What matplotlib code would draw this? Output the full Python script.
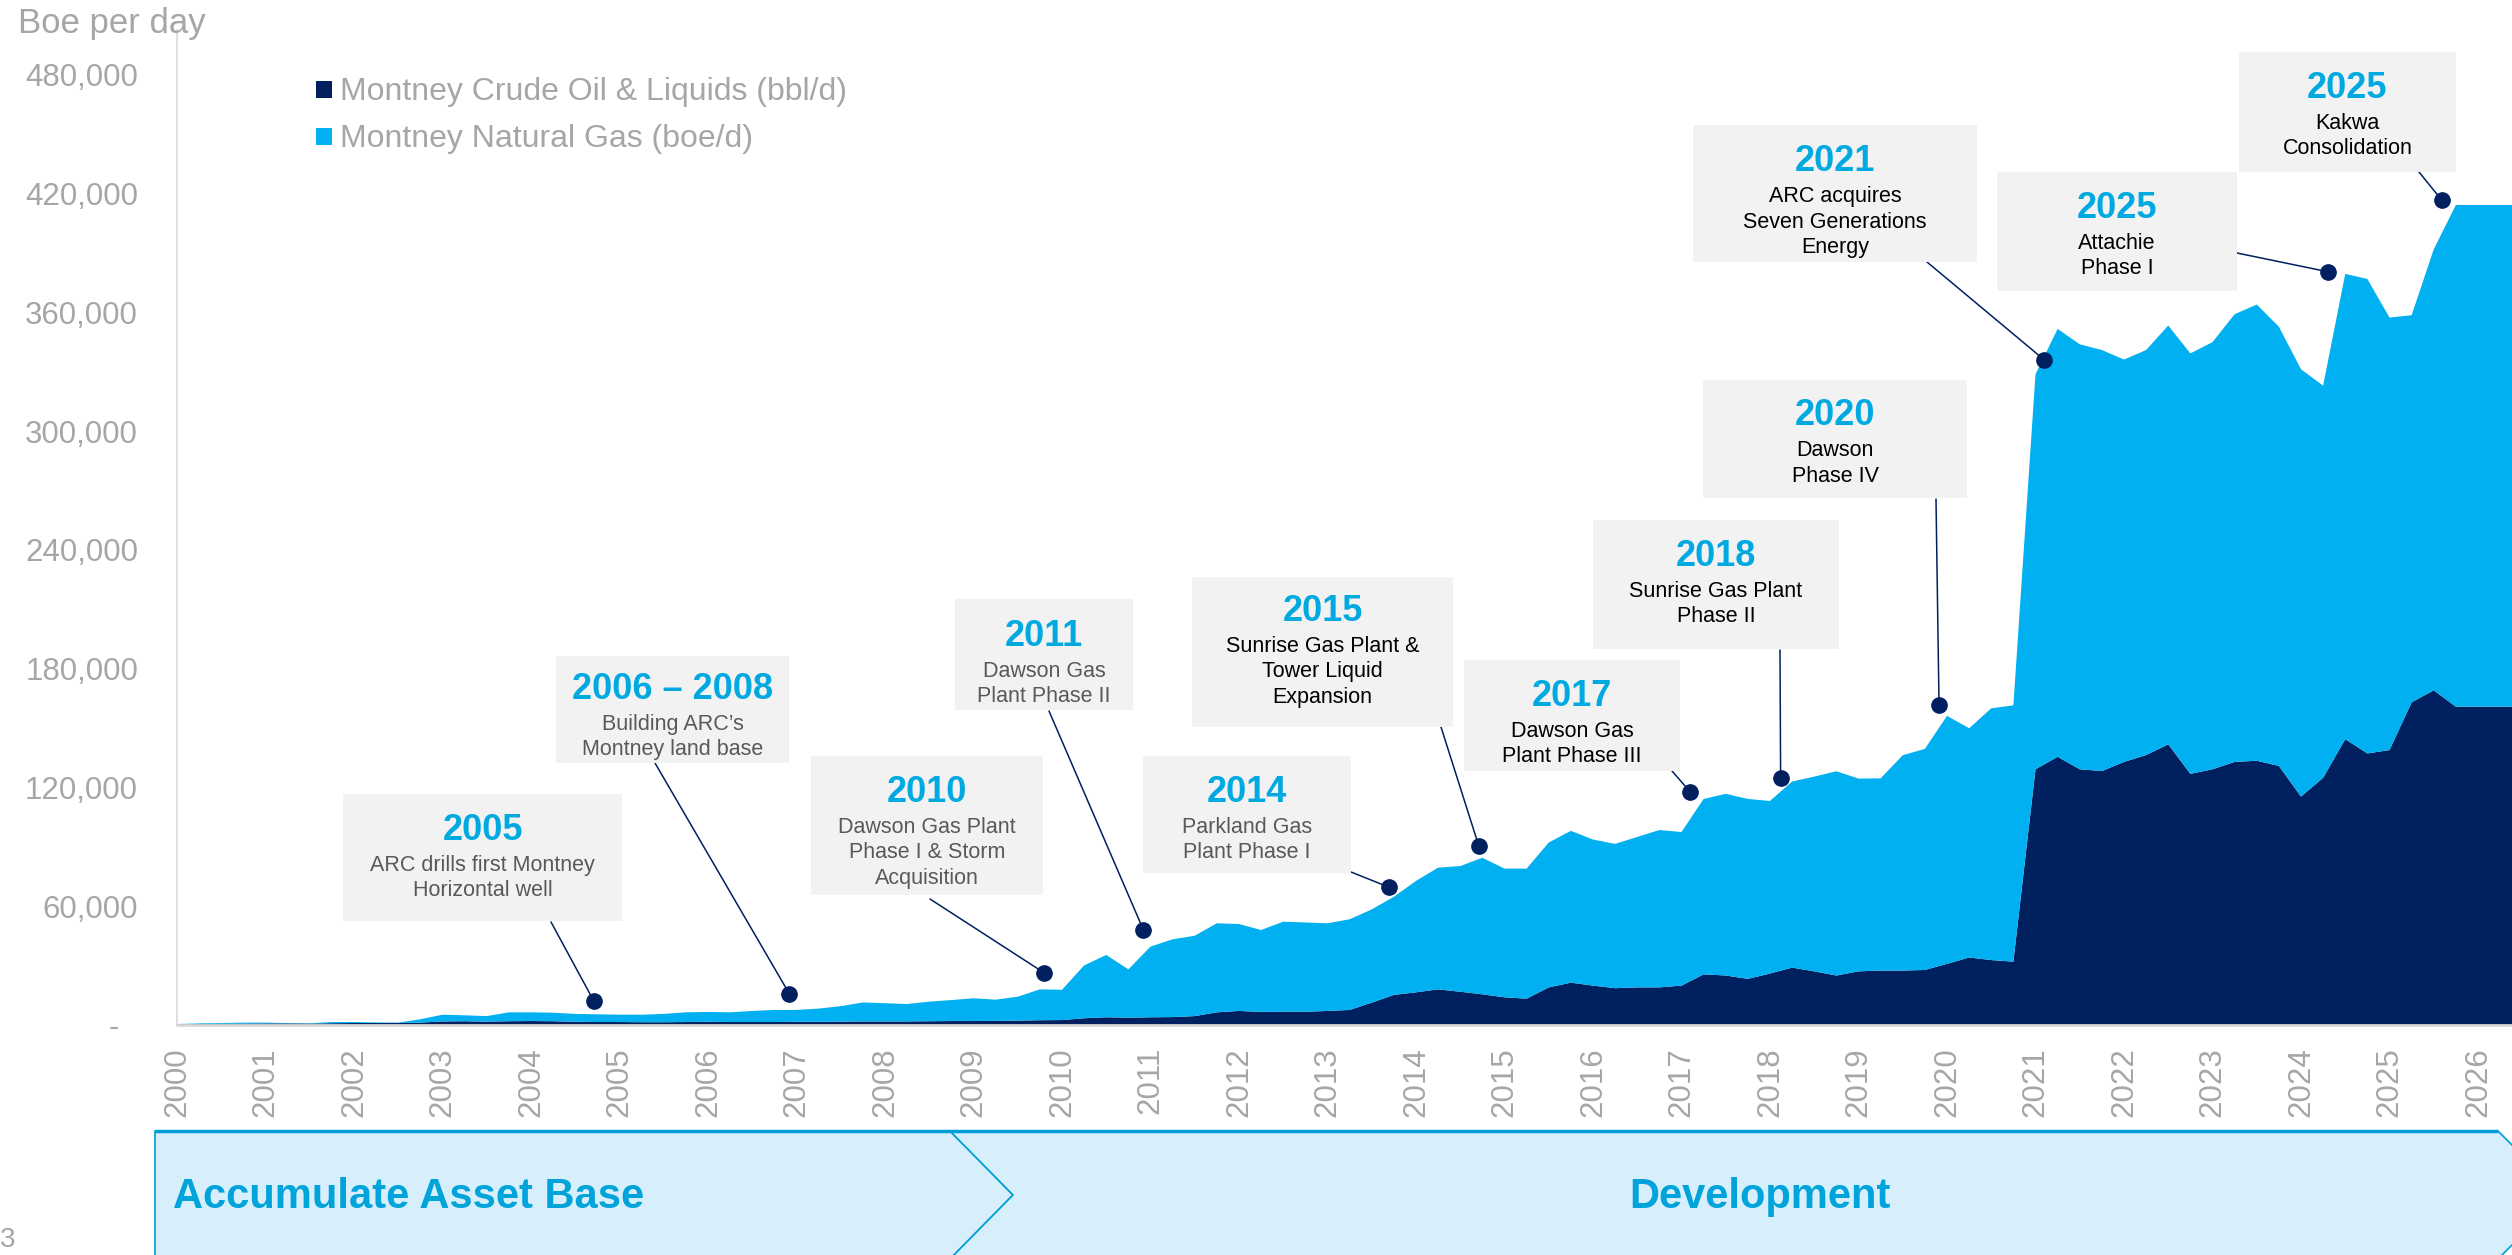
import numpy as np
import matplotlib
matplotlib.use("Agg")
import matplotlib.pyplot as plt
from matplotlib.patches import Rectangle, Polygon

plt.rcParams['font.family'] = ['Liberation Sans', 'DejaVu Sans']

# quarterly Montney production, thousand boe/d, first point = Q1 2000
oil = [0.4, 0.5, 0.6, 0.7, 0.8, 0.8, 0.7, 0.9, 1.0, 1.0, 1.0, 1.2,
       1.8, 1.9, 1.7, 1.9, 2.0, 1.9, 1.6, 1.5, 1.5, 1.4, 1.4, 1.5,
       1.6, 1.5, 1.5, 1.5, 1.6, 1.6, 1.7, 1.8, 1.8, 1.8, 1.9, 2.0,
       2.0, 2.1, 2.2, 2.4, 2.5, 3.4, 3.9, 3.7, 3.9, 4.0, 4.5, 6.4,
       7.1, 6.6, 6.7, 6.7, 7.1, 7.6, 11.3, 15.2, 16.5, 18.0, 16.8, 15.5,
       14.0, 13.3, 19.0, 21.4, 19.9, 18.6, 19.0, 19.0, 19.9, 25.6, 25.0, 23.3,
       26.0, 29.0, 27.1, 25.0, 27.1, 27.5, 27.5, 27.8, 30.9, 34.1, 32.8, 32.0,
       129.2, 135.5, 129.2, 128.3, 132.9, 136.4, 141.8, 126.9,
       129.2, 132.9, 133.5, 130.9, 115.4, 124.9, 144.4, 137.2,
       138.9, 163.0, 169.1, 160.8, 160.8, 160.8, 160.8]
gas = [0.1, 0.3, 0.4, 0.5, 0.4, 0.2, 0.2, 0.6, 0.5, 0.3, 0.2, 1.7,
       3.4, 3.0, 2.8, 4.5, 4.4, 4.3, 4.0, 3.9, 3.7, 3.8, 4.2, 4.9,
       5.0, 4.9, 5.6, 6.1, 6.0, 6.7, 7.8, 9.6, 9.2, 8.8, 9.9, 10.6,
       11.5, 10.7, 12.1, 15.6, 15.3, 26.7, 31.5, 24.4, 35.7, 39.3, 40.6, 45.0,
       43.9, 41.4, 45.5, 45.1, 44.3, 45.8, 47.1, 49.6, 56.3, 61.5, 63.5, 69.0,
       65.0, 65.7, 73.2, 76.7, 73.8, 72.9, 76.0, 79.5, 77.6, 88.6, 91.8, 90.9,
       87.2, 94.0, 98.4, 103.2, 97.4, 97.1, 108.8, 111.7, 125.3, 115.8, 127.2, 129.5,
       199.5, 216.2, 214.7, 212.7, 203.3, 204.6, 211.6, 212.4,
       215.8, 226.2, 230.5, 221.9, 215.9, 198.1, 235.1, 239.7,
       218.5, 195.6, 222.8, 253.5, 253.5, 253.5, 253.5]

years = list(range(2000, 2027))
y_ticks = [0, 60, 120, 180, 240, 300, 360, 420, 480]
y_labels = ['', '60,000', '120,000', '180,000', '240,000', '300,000',
            '360,000', '420,000', '480,000']

ev_year = ['2005', '2006 – 2008', '2010', '2011', '2014', '2015',
           '2017', '2018', '2020', '2021', '2025', '2025']
ev_text = [['ARC drills first Montney', 'Horizontal well'],
           ['Building ARC’s', 'Montney land base'],
           ['Dawson Gas Plant', 'Phase I & Storm', 'Acquisition'],
           ['Dawson Gas', 'Plant Phase II'],
           ['Parkland Gas', 'Plant Phase I'],
           ['Sunrise Gas Plant &', 'Tower Liquid', 'Expansion'],
           ['Dawson Gas', 'Plant Phase III'],
           ['Sunrise Gas Plant', 'Phase II'],
           ['Dawson', 'Phase IV'],
           ['ARC acquires', 'Seven Generations', 'Energy'],
           ['Attachie', 'Phase I'],
           ['Kakwa', 'Consolidation']]
ev_x = [2004.71, 2006.92, 2009.80, 2010.92, 2013.69, 2014.71,
        2017.10, 2018.12, 2019.91, 2021.10, 2024.31, 2025.59]
ev_val = [12.1, 15.7, 26.3, 48.0, 69.7, 90.4, 117.7, 124.8, 161.7, 336.0, 380.5, 416.8]

# layout (figure pixels, y from top)
boxes = [(343, 794, 622, 921), (556, 656, 789, 763), (811, 756, 1043, 895),
         (955, 599, 1133, 710), (1143, 756, 1351, 873), (1192, 577, 1453, 727),
         (1464, 660, 1680, 771), (1593, 520, 1839, 649), (1703, 380, 1967, 498),
         (1693, 125, 1977, 262), (1997, 172, 2237, 291), (2239, 52, 2456, 172)]
year_base = [840, 699, 802, 646, 802, 621, 706, 566, 425, 171, 218, 98]
leader_from = [(551, 922), (655, 763), (930, 899), (1049, 711), (1351, 872),
               (1441, 727), (1672, 771), (1780, 650), (1936, 499), (1927, 262),
               (2237, 253), (2419, 172)]
grey_body = [True] * 5 + [False] * 7

W, H = 2512, 1255
NAVY = '#002060'
CYAN = '#00B0F0'
GRAY = '#A6A6A6'
BLUE_TXT = '#00A9E0'

fig = plt.figure(figsize=(W / 100, H / 100), dpi=100)
ax = fig.add_axes([177 / W, 230 / H, (W - 177) / W, 995 / H])

x = 2000 + np.arange(len(oil)) * 0.25
ax.stackplot(x, oil, gas, colors=[NAVY, CYAN], linewidth=0)

ax.set_xlim(2000, 2000 + (W - 177) / 88.5)
ax.set_ylim(0, 502.7)
for s in ['top', 'right']:
    ax.spines[s].set_visible(False)
ax.spines['left'].set_color('#D9D9D9')
ax.spines['left'].set_linewidth(1.2)
ax.spines['bottom'].set_color('#D9D9D9')
ax.spines['bottom'].set_linewidth(2)
ax.spines['bottom'].set_zorder(5)

ax.set_yticks(y_ticks)
ax.set_yticklabels(y_labels, fontsize=22.5, color=GRAY)
ax.tick_params(axis='y', length=0, pad=28)
ax.set_xticks(years)
ax.set_xticklabels([str(y) for y in years], rotation=90, fontsize=22.5, color=GRAY)
ax.tick_params(axis='x', length=0, pad=16)

# leaders and dots
for i in range(len(ev_x)):
    lx, ly = leader_from[i]
    ax.annotate('', xy=(ev_x[i], ev_val[i]), xycoords='data',
                xytext=(lx, H - ly), textcoords='figure pixels',
                arrowprops=dict(arrowstyle='-', color=NAVY, lw=1.1,
                                shrinkA=0, shrinkB=0), annotation_clip=False)
ax.plot(ev_x, ev_val, 'o', color=NAVY, markersize=11, zorder=6, clip_on=False)

# overlay in pixel space
ov = fig.add_axes([0, 0, 1, 1], facecolor='none')
ov.set_xlim(0, W)
ov.set_ylim(H, 0)
ov.axis('off')

for i, (x0, y0, x1, y1) in enumerate(boxes):
    ov.add_patch(Rectangle((x0, y0), x1 - x0, y1 - y0, facecolor='#F2F2F2',
                           edgecolor='none'))
    cx = (x0 + x1) / 2
    ov.text(cx, year_base[i], ev_year[i], ha='center', va='baseline',
            fontsize=26, fontweight='bold', color=BLUE_TXT)
    col = '#595959' if grey_body[i] else '#000000'
    for j, line in enumerate(ev_text[i]):
        ov.text(cx, year_base[i] + 31 + j * 25.5, line, ha='center',
                va='baseline', fontsize=15.5, color=col)

# legend
ov.add_patch(Rectangle((316, 81), 16, 17, facecolor=NAVY, edgecolor='none'))
ov.add_patch(Rectangle((316, 128), 16, 17, facecolor=CYAN, edgecolor='none'))
ov.text(340, 100, 'Montney Crude Oil & Liquids (bbl/d)', fontsize=23,
        color=GRAY, va='baseline')
ov.text(340, 147, 'Montney Natural Gas (boe/d)', fontsize=23,
        color=GRAY, va='baseline')

ov.text(18, 33, 'Boe per day', fontsize=25, color=GRAY, va='baseline')
ov.text(119, 1036, '-', fontsize=22.5, color=GRAY, va='baseline', ha='right')
ov.text(0, 1247, '3', fontsize=20, color=GRAY, va='baseline')

# phase banner
p1 = [(155, 1131), (950, 1131), (1013, 1195), (950, 1259), (155, 1259)]
p2 = [(950, 1131), (2498, 1131), (2562, 1195), (2498, 1259), (950, 1259), (1013, 1195)]
for p in (p1, p2):
    ov.add_patch(Polygon(p, closed=True, facecolor='#D6EFFB',
                         edgecolor='#009ED8', lw=1.2))
ov.plot([155, 2498], [1131, 1131], color='#009ED8', lw=2.5, solid_capstyle='butt')
ov.text(173, 1208, 'Accumulate Asset Base', fontsize=30, fontweight='bold',
        color='#00A3DA', va='baseline')
ov.text(1760, 1208, 'Development', fontsize=30, fontweight='bold',
        color='#00A3DA', va='baseline', ha='center')

fig.savefig('out.png', dpi=100)
